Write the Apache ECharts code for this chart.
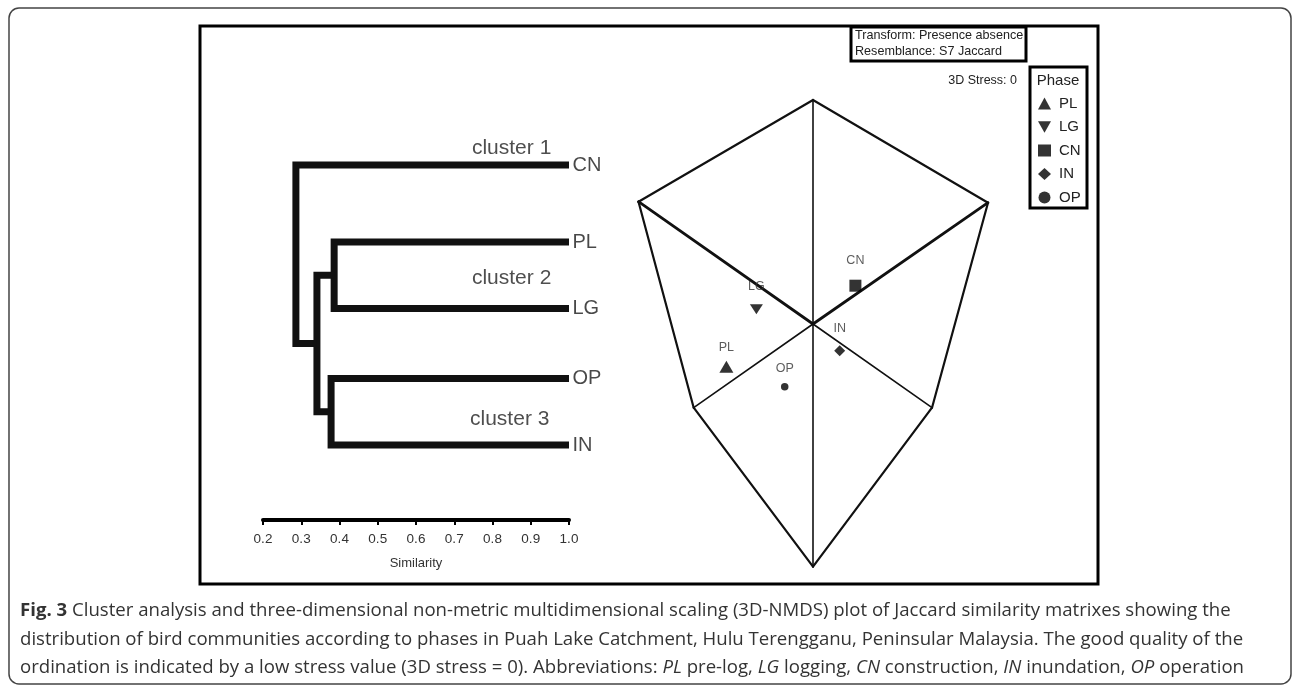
<!DOCTYPE html>
<html>
<head>
<meta charset="utf-8">
<title>Fig. 3 cluster analysis and 3D-NMDS</title>
<script src="https://cdn.jsdelivr.net/npm/echarts@6/dist/echarts.min.js"></script>
<style>
  html, body { margin: 0; padding: 0; background: #fff; }
  #chart { width: 1292px; height: 685px; }
</style>
</head>
<body>
<div id="chart"></div>
<script>
  // dendrogram (cluster analysis)
  const leaves = ['CN', 'PL', 'LG', 'OP', 'IN']
  const leafRow = [0, 1.1, 2.05, 3.05, 4]
  // node 5 = PL+LG, 6 = OP+IN, 7 = (5,6), 8 = root
  const mergePairs = [[1, 2], [3, 4], [5, 6], [0, 7]]
  const mergeSim = [0.386, 0.378, 0.341, 0.286]
  const clusterNames = ['cluster 1', 'cluster 2', 'cluster 3']
  const clusterSim = [0.85, 0.85, 0.845]
  const clusterRow = [-0.24, 1.61, 3.63]
  const simTicks = [0.2, 0.3, 0.4, 0.5, 0.6, 0.7, 0.8, 0.9, 1.0]

  // 3D-NMDS ordination
  const phases = ['PL', 'LG', 'CN', 'IN', 'OP']
  const mdsX = [-0.866, -0.566, 0.424, 0.267, -0.283]
  const mdsY = [-0.427, 0.147, 0.383, -0.267, -0.627]
  const phaseSymbols = ['triangle', 'path://M0,0L10,0L5,9Z', 'rect', 'diamond', 'circle']
  const phaseSizes = [[14, 12], [13, 10], 12, 11, 7.5]
  const labelLift = [19, 23, 25, 22, 18]

  // projected box of the 3D axes
  const frameNames = ['O', 'T', 'L', 'R', 'LL', 'LR', 'B']
  const frameX = [0, 0, -1.745, 1.75, -1.193, 1.19, 0]
  const frameY = [0, 2.24, 1.223, 1.213, -0.837, -0.837, -2.427]
  const outlineEdges = [['T', 'L'], ['T', 'R'], ['R', 'LR'], ['LR', 'B'], ['B', 'LL'], ['LL', 'L']]
  const boldSpokes = [['O', 'L'], ['O', 'R']]
  const thinSpokes = [['O', 'T'], ['O', 'LL'], ['O', 'LR'], ['O', 'B']]

  const FONT = '"Liberation Sans", Arial, sans-serif'

  // build dendrogram links
  const nodeX = leaves.map(() => 1.0)
  const nodeY = leafRow.slice()
  const links = []
  mergePairs.forEach(function (pair, i) {
    const a = pair[0], b = pair[1]
    const x = mergeSim[i]
    links.push({
      coords: [[nodeX[a], nodeY[a]], [x, nodeY[a]], [x, nodeY[b]], [nodeX[b], nodeY[b]]]
    })
    nodeX.push(x)
    nodeY.push((nodeY[a] + nodeY[b]) / 2)
  })

  function vtx(n) {
    const i = frameNames.indexOf(n)
    return [frameX[i], frameY[i]]
  }
  function edgeData(list) {
    return list.map(e => ({ coords: [vtx(e[0]), vtx(e[1])] }))
  }

  const chart = echarts.init(document.getElementById('chart'), null, { renderer: 'canvas' })

  const captionBase = { fontSize: 18.6, fontFamily: '"Open Sans", sans-serif', fill: '#333' }
  function caption(text, y) {
    return {
      type: 'text',
      silent: true,
      style: Object.assign({
        text: text, x: 20, y: y,
        textVerticalAlign: 'middle', verticalAlign: 'middle',
        rich: {
          b: Object.assign({ fontWeight: 'bold' }, captionBase, { color: '#333' }),
          i: Object.assign({ fontStyle: 'italic' }, captionBase, { color: '#333' })
        }
      }, captionBase)
    }
  }

  const series = [
    {
      type: 'lines',
      coordinateSystem: 'cartesian2d',
      xAxisIndex: 0, yAxisIndex: 0,
      polyline: true,
      silent: true,
      lineStyle: { color: '#111', width: 7, opacity: 1, join: 'miter', cap: 'butt' },
      data: links
    },
    {
      type: 'scatter',
      xAxisIndex: 0, yAxisIndex: 0,
      symbolSize: 1,
      silent: true,
      itemStyle: { color: 'rgba(0,0,0,0)' },
      label: {
        show: true, position: 'right', distance: 3,
        formatter: p => p.data[2],
        fontSize: 20, fontFamily: FONT, color: '#1a1a1a'
      },
      data: leaves.map((n, i) => [1.0, leafRow[i], n])
    },
    {
      type: 'scatter',
      xAxisIndex: 0, yAxisIndex: 0,
      symbolSize: 1,
      silent: true,
      itemStyle: { color: 'rgba(0,0,0,0)' },
      label: {
        show: true, position: 'inside',
        formatter: p => p.data[2],
        fontSize: 21, fontFamily: FONT, color: '#222'
      },
      data: clusterNames.map((n, i) => [clusterSim[i], clusterRow[i], n])
    },
    {
      type: 'lines',
      coordinateSystem: 'cartesian2d',
      xAxisIndex: 1, yAxisIndex: 1,
      silent: true,
      lineStyle: { color: '#111', width: 2.2, opacity: 1, cap: 'round' },
      data: edgeData(outlineEdges)
    },
    {
      type: 'lines',
      coordinateSystem: 'cartesian2d',
      xAxisIndex: 1, yAxisIndex: 1,
      silent: true,
      lineStyle: { color: '#111', width: 2.8, opacity: 1, cap: 'round' },
      data: edgeData(boldSpokes)
    },
    {
      type: 'lines',
      coordinateSystem: 'cartesian2d',
      xAxisIndex: 1, yAxisIndex: 1,
      silent: true,
      lineStyle: { color: '#111', width: 1.6, opacity: 1, cap: 'round' },
      data: edgeData(thinSpokes)
    }
  ]

  phases.forEach(function (p, i) {
    series.push({
      name: p,
      type: 'scatter',
      xAxisIndex: 1, yAxisIndex: 1,
      symbol: phaseSymbols[i],
      symbolSize: phaseSizes[i],
      itemStyle: { color: '#000' },
      label: {
        show: true, position: 'inside', offset: [0, -labelLift[i]],
        formatter: p,
        fontSize: 12.5, fontFamily: FONT, color: '#333'
      },
      data: [[mdsX[i], mdsY[i]]]
    })
  })

  const option = {
    backgroundColor: '#fff',
    animation: false,
    grid: [
      { left: 263, width: 306, top: 95, height: 425 },
      { left: 613, width: 400, top: 74, height: 500 }
    ],
    xAxis: [
      {
        gridIndex: 0,
        type: 'value',
        min: simTicks[0],
        max: simTicks[simTicks.length - 1],
        interval: 0.1,
        name: 'Similarity',
        nameLocation: 'middle',
        nameGap: 37,
        nameTextStyle: { fontSize: 13, fontFamily: FONT, color: '#333' },
        axisLine: { show: true, onZero: false, lineStyle: { color: '#000', width: 4 } },
        axisTick: { show: true, length: 5, lineStyle: { color: '#000', width: 2 } },
        axisLabel: {
          margin: 12, fontSize: 13.5, fontFamily: FONT, color: '#333',
          formatter: v => v.toFixed(1)
        },
        splitLine: { show: false }
      },
      { gridIndex: 1, type: 'value', min: -2, max: 2, show: false, splitLine: { show: false } }
    ],
    yAxis: [
      { gridIndex: 0, type: 'value', inverse: true, min: -1, max: 5.07, show: false, splitLine: { show: false } },
      { gridIndex: 1, type: 'value', min: -2.5, max: 2.5, show: false, splitLine: { show: false } }
    ],
    legend: {
      orient: 'vertical',
      left: 1033,
      top: 91,
      itemWidth: 13,
      itemHeight: 12,
      itemGap: 8.5,
      selectedMode: false,
      textStyle: { fontSize: 15, fontFamily: FONT, color: '#222', padding: [0, 0, 0, 3] },
      data: phases.map((p, i) => ({ name: p, icon: phaseSymbols[i] }))
    },
    graphic: [
      {
        type: 'rect', silent: true,
        shape: { x: 9, y: 8, width: 1282, height: 676, r: 10 },
        style: { fill: 'none', stroke: '#444', lineWidth: 1.5 }
      },
      {
        type: 'rect', silent: true,
        shape: { x: 200, y: 26, width: 898, height: 558 },
        style: { fill: 'none', stroke: '#000', lineWidth: 3 }
      },
      {
        type: 'rect', silent: true,
        shape: { x: 851, y: 27, width: 175, height: 34 },
        style: { fill: 'none', stroke: '#000', lineWidth: 3 }
      },
      {
        type: 'text', silent: true,
        style: { text: 'Transform: Presence absence', x: 855, y: 36, fontSize: 12.6, fontFamily: FONT, fill: '#222', textVerticalAlign: 'middle', verticalAlign: 'middle' }
      },
      {
        type: 'text', silent: true,
        style: { text: 'Resemblance: S7 Jaccard', x: 855, y: 52, fontSize: 12.6, fontFamily: FONT, fill: '#222', textVerticalAlign: 'middle', verticalAlign: 'middle' }
      },
      {
        type: 'text', silent: true,
        style: { text: '3D Stress: 0', x: 1017, y: 81, fontSize: 12.5, fontFamily: FONT, fill: '#222', textAlign: 'right', align: 'right', textVerticalAlign: 'middle', verticalAlign: 'middle' }
      },
      {
        type: 'rect', silent: true,
        shape: { x: 1030, y: 67, width: 57, height: 141 },
        style: { fill: 'none', stroke: '#000', lineWidth: 3 }
      },
      {
        type: 'text', silent: true,
        style: { text: 'Phase', x: 1058, y: 81, fontSize: 15, fontFamily: FONT, fill: '#222', textAlign: 'center', align: 'center', textVerticalAlign: 'middle', verticalAlign: 'middle' }
      },
      caption('{b|Fig. 3} Cluster analysis and three-dimensional non-metric multidimensional scaling (3D-NMDS) plot of Jaccard similarity matrixes showing the', 611),
      caption('distribution of bird communities according to phases in Puah Lake Catchment, Hulu Terengganu, Peninsular Malaysia. The good quality of the', 640),
      caption('ordination is indicated by a low stress value (3D stress = 0). Abbreviations: {i|PL} pre-log, {i|LG} logging, {i|CN} construction, {i|IN} inundation, {i|OP} operation', 668)
    ],
    series: series
  }

  chart.setOption(option)
</script>
</body>
</html>
